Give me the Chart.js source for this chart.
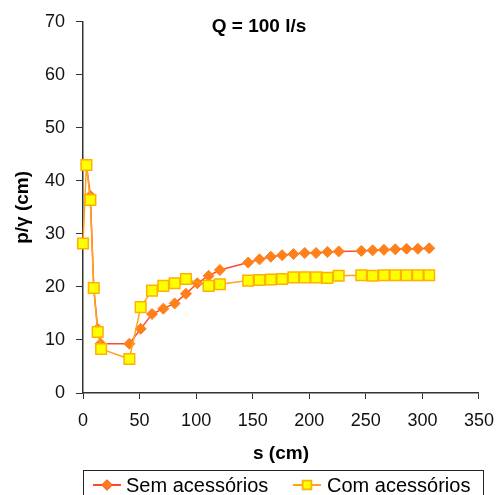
<!DOCTYPE html>
<html>
<head>
<meta charset="utf-8">
<script src="https://cdn.jsdelivr.net/npm/chart.js@4/dist/chart.umd.min.js"></script>
<style>
  html, body { margin: 0; padding: 0; background: #fff; }
  #wrap { width: 499px; height: 495px; }
</style>
</head>
<body>
<div id="wrap"><canvas id="chart" width="499" height="495"></canvas></div>
<script>
// --- Data ---
const semX = [3, 6.5, 9.5, 13, 15.5, 41, 51, 61, 71, 81, 91, 101, 111, 121, 146, 156, 166, 176, 186, 196, 206, 216, 226, 246, 256, 266, 276, 286, 296, 306];
const semY = [43.1, 37.2, 19.8, 12.1, 9.3, 9.3, 12.1, 14.9, 15.9, 16.9, 18.7, 20.7, 22.1, 23.2, 24.6, 25.2, 25.7, 26.0, 26.2, 26.4, 26.4, 26.6, 26.7, 26.8, 26.9, 27.0, 27.1, 27.2, 27.2, 27.3];

const comX = [0, 3, 6.5, 9.5, 13, 16, 41, 51, 61, 71, 81, 91, 111, 121, 146, 156, 166, 176, 186, 196, 206, 216, 226, 246, 256, 266, 276, 286, 296, 306];
const comY = [28.2, 43.0, 36.4, 19.8, 11.5, 8.3, 6.4, 16.2, 19.3, 20.2, 20.7, 21.5, 20.2, 20.5, 21.2, 21.3, 21.4, 21.5, 21.8, 21.8, 21.8, 21.7, 22.1, 22.2, 22.1, 22.2, 22.2, 22.2, 22.2, 22.2];

const seriesNames = ['Sem acessórios', 'Com acessórios'];
const chartTitle = 'Q = 100 l/s';
const xTitle = 's (cm)';
const yTitle = 'p/γ (cm)';

const FONT = '"Liberation Sans", Arial, sans-serif';
const axisColor = '#333';

const toPoints = (xs, ys) => xs.map((x, i) => ({ x, y: ys[i] }));

// title inside the plot + boxed legend at the bottom
const decor = {
    id: 'decor',
    afterDraw(chart) {
        const ctx = chart.ctx;
        ctx.save();
        ctx.fillStyle = '#000';
        ctx.font = 'bold 19px ' + FONT;
        ctx.textAlign = 'center';
        ctx.textBaseline = 'middle';
        ctx.fillText(chartTitle, 259, 27);

        // legend box
        ctx.strokeStyle = '#222';
        ctx.lineWidth = 1;
        ctx.strokeRect(83.5, 470.5, 400, 30);

        ctx.font = '20px ' + FONT;
        ctx.textAlign = 'left';
        const items = [{ x0: 93, tx: 126 }, { x0: 293, tx: 327 }];
        chart.data.datasets.forEach((ds, i) => {
            const it = items[i];
            const cy = 485;
            ctx.strokeStyle = ds.borderColor;
            ctx.lineWidth = 2;
            ctx.beginPath();
            ctx.moveTo(it.x0, cy);
            ctx.lineTo(it.x0 + 28, cy);
            ctx.stroke();
            Chart.helpers.drawPoint(ctx, {
                pointStyle: ds.pointStyle,
                radius: ds.pointRadius * 0.8,
                borderWidth: ds.pointBorderWidth
            }, it.x0 + 14, cy);
            ctx.fillStyle = ds.pointBackgroundColor;
            ctx.strokeStyle = ds.pointBorderColor;
            ctx.lineWidth = ds.pointBorderWidth;
            ctx.fill();
            ctx.stroke();
            ctx.fillStyle = '#000';
            ctx.fillText(ds.label, it.tx, cy + 1);
        });
        ctx.restore();
    }
};

new Chart(document.getElementById('chart'), {
    type: 'line',
    data: {
        datasets: [
            {
                label: seriesNames[0],
                data: toPoints(semX, semY),
                borderColor: '#ff4a2a',
                borderWidth: 1.5,
                pointStyle: 'rectRot',
                pointRadius: 5.5,
                pointBackgroundColor: '#ff7f1a',
                pointBorderColor: '#ff7f1a',
                pointBorderWidth: 1,
                tension: 0,
                clip: false,
                order: 1
            },
            {
                label: seriesNames[1],
                data: toPoints(comX, comY),
                borderColor: '#ffa31a',
                borderWidth: 1.5,
                pointStyle: 'rect',
                pointRadius: 7.5,
                pointBackgroundColor: '#ffff00',
                pointBorderColor: '#ffb000',
                pointBorderWidth: 1.5,
                tension: 0,
                clip: false,
                order: 0
            }
        ]
    },
    options: {
        responsive: false,
        animation: false,
        layout: { autoPadding: false, padding: { top: 20, right: 20, bottom: 30, left: 0 } },
        plugins: { legend: { display: false }, tooltip: { enabled: false } },
        scales: {
            x: {
                type: 'linear',
                min: 0, max: 350,
                // small padding keeps the right edge where it is; lineHeight pushes labels down
                ticks: { stepSize: 50, color: '#111', font: { size: 18, family: FONT, lineHeight: 1.9 }, padding: 5, maxRotation: 0 },
                grid: { drawOnChartArea: false, drawTicks: true, tickLength: 6, color: axisColor },
                border: { color: axisColor, width: 1.5 },
                title: { display: true, text: xTitle, color: '#000', font: { size: 19, weight: 'bold', family: FONT }, padding: { top: 0, bottom: 0 } },
                afterFit: (s) => { s.height = 72; }
            },
            y: {
                min: 0, max: 70,
                ticks: { stepSize: 10, color: '#111', font: { size: 18, family: FONT }, padding: 11 },
                grid: { drawOnChartArea: false, drawTicks: true, tickLength: 7, color: axisColor },
                border: { color: axisColor, width: 1.5 },
                title: { display: true, text: yTitle, color: '#000', font: { size: 19, weight: 'bold', family: FONT }, padding: { top: 11, bottom: 0 } },
                afterFit: (s) => { s.width = 83; }
            }
        }
    },
    plugins: [decor]
});
</script>
</body>
</html>
